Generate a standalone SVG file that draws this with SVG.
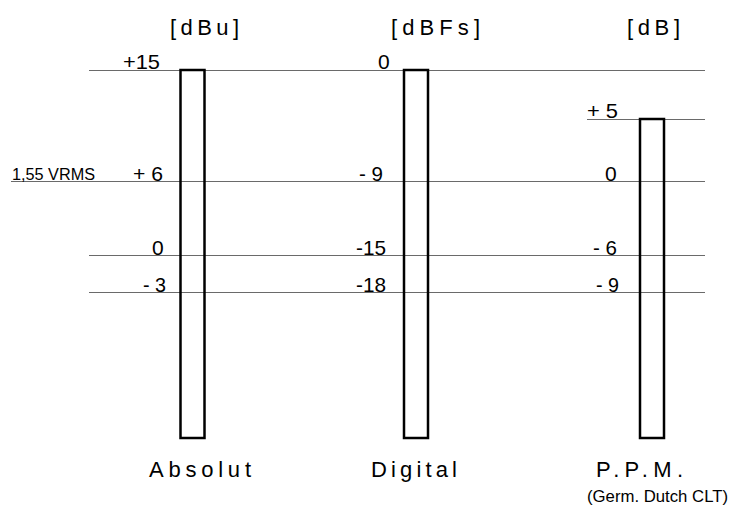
<svg xmlns="http://www.w3.org/2000/svg" width="730" height="507" viewBox="0 0 730 507">
<style>
text{font-family:"Liberation Sans",Arial,sans-serif;fill:#000}
.h{font-size:22px}
.n{font-size:21px}
.grid line{stroke:#6a6a6a;stroke-width:1}
.bar{fill:none;stroke:#000;stroke-width:2.5}
</style>
<rect width="730" height="507" fill="#fff"/>
<g id="connectors" class="grid">
<line x1="89" y1="70.5" x2="705" y2="70.5"/>
<line x1="587" y1="119.5" x2="705" y2="119.5"/>
<line x1="11" y1="181.5" x2="705" y2="181.5"/>
<line x1="89" y1="255.5" x2="705" y2="255.5"/>
<line x1="89" y1="292.5" x2="705" y2="292.5"/>
</g>
<g id="absolut">
<text class="h" x="170" y="35" textLength="69">[dBu]</text>
<rect class="bar" x="180.5" y="70" width="24" height="368"/>
<text class="n" x="123" y="69" textLength="37" lengthAdjust="spacingAndGlyphs">+15</text>
<text style="font-size:16px" x="12" y="180" textLength="83" lengthAdjust="spacingAndGlyphs">1,55 VRMS</text>
<text class="n" x="133" y="181" textLength="30" lengthAdjust="spacingAndGlyphs">+ 6</text>
<text class="n" x="152" y="255">0</text>
<text class="n" x="143" y="292" textLength="23" lengthAdjust="spacingAndGlyphs">- 3</text>
<text class="h" x="149" y="477" textLength="102">Absolut</text>
</g>
<g id="digital">
<text class="h" x="391" y="35" textLength="89">[dBFs]</text>
<rect class="bar" x="404" y="70" width="24" height="368"/>
<text class="n" x="378" y="69">0</text>
<text class="n" x="359" y="181" textLength="24" lengthAdjust="spacingAndGlyphs">- 9</text>
<text class="n" x="356" y="255" textLength="30" lengthAdjust="spacingAndGlyphs">-15</text>
<text class="n" x="356" y="292" textLength="30" lengthAdjust="spacingAndGlyphs">-18</text>
<text class="h" x="371" y="477" textLength="86">Digital</text>
</g>
<g id="ppm">
<text class="h" x="627" y="35" textLength="53">[dB]</text>
<rect class="bar" x="640" y="119" width="24" height="319"/>
<text class="n" x="587" y="118" textLength="31" lengthAdjust="spacingAndGlyphs">+ 5</text>
<text class="n" x="605" y="181">0</text>
<text class="n" x="593" y="255" textLength="24" lengthAdjust="spacingAndGlyphs">- 6</text>
<text class="n" x="596" y="292" textLength="23" lengthAdjust="spacingAndGlyphs">- 9</text>
<text class="h" x="596" y="477" textLength="87">P.P.M.</text>
<text style="font-size:17px" x="587" y="502" textLength="141" lengthAdjust="spacingAndGlyphs">(Germ. Dutch CLT)</text>
</g>
</svg>
